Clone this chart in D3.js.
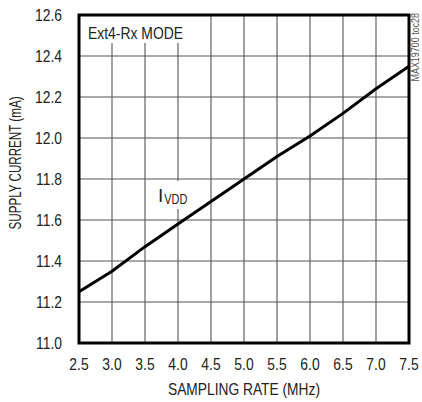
<!DOCTYPE html>
<html>
<head>
<meta charset="utf-8">
<script src="https://cdn.jsdelivr.net/npm/d3@7"></script>
<style>
  body { margin: 0; background: #fff; }
  text { font-family: "Liberation Sans", Arial, sans-serif; fill: #222; }
</style>
</head>
<body>
<svg></svg>
<script>
// sampling rate (MHz) and supply current (mA)
const rates = [2.5, 3.0, 3.5, 4.0, 4.5, 5.0, 5.5, 6.0, 6.5, 7.0, 7.5];
const current = [11.25, 11.35, 11.47, 11.58, 11.69, 11.80, 11.91, 12.01, 12.12, 12.24, 12.35];
const xTicks = [2.5, 3.0, 3.5, 4.0, 4.5, 5.0, 5.5, 6.0, 6.5, 7.0, 7.5];
const yTicks = [11.0, 11.2, 11.4, 11.6, 11.8, 12.0, 12.2, 12.4, 12.6];

const width = 422;
const height = 402;
const plotL = 79, plotR = 409, plotT = 15, plotB = 343;

const svg = d3.select('svg')
    .attr("width", width)
    .attr("height", height);

// squeeze text horizontally, the original uses a condensed face
function narrow(sel, f) {
    sel.each(function() {
        const w = this.getComputedTextLength();
        d3.select(this).attr("textLength", w * f).attr("lengthAdjust", "spacingAndGlyphs");
    });
}

const x = d3.scaleLinear().domain([2.5, 7.5]).range([plotL, plotR]);
const y = d3.scaleLinear().domain([11.0, 12.6]).range([plotB, plotT]);

// grid
svg.append("g")
    .selectAll("line")
    .data(xTicks)
    .enter()
    .append("line")
    .attr("x1", d => x(d)).attr("x2", d => x(d))
    .attr("y1", plotT).attr("y2", plotB)
    .attr("stroke", "#555").attr("stroke-width", 1.1);

svg.append("g")
    .selectAll("line")
    .data(yTicks)
    .enter()
    .append("line")
    .attr("x1", plotL).attr("x2", plotR)
    .attr("y1", d => y(d)).attr("y2", d => y(d))
    .attr("stroke", "#555").attr("stroke-width", 1.1);

// white boxes behind labels
svg.append("rect").attr("x", plotL + 1).attr("y", plotT + 1).attr("width", 112).attr("height", 27).attr("fill", "#fff");
svg.append("rect").attr("x", 155).attr("y", 181).attr("width", 35).attr("height", 28).attr("fill", "#fff");

// curve
const line = d3.line()
    .x((d, i) => x(rates[i]))
    .y(d => y(d));

svg.append("path")
    .datum(current)
    .attr("d", line)
    .attr("fill", "none")
    .attr("stroke", "#000")
    .attr("stroke-width", 3);

// frame
svg.append("rect")
    .attr("x", plotL).attr("y", plotT)
    .attr("width", plotR - plotL).attr("height", plotB - plotT)
    .attr("fill", "none").attr("stroke", "#000").attr("stroke-width", 3);

// tick labels
svg.append("g")
    .selectAll("text")
    .data(yTicks)
    .enter()
    .append("text")
    .attr("x", 62)
    .attr("y", d => y(d) + 6)
    .attr("text-anchor", "end")
    .attr("font-size", 16.5)
    .text(d => d.toFixed(1))
    .call(narrow, 0.84);

svg.append("g")
    .selectAll("text")
    .data(xTicks)
    .enter()
    .append("text")
    .attr("x", d => x(d))
    .attr("y", 370)
    .attr("text-anchor", "middle")
    .attr("font-size", 16.5)
    .text(d => d.toFixed(1))
    .call(narrow, 0.84);

// axis titles
svg.append("text")
    .attr("x", 244).attr("y", 395)
    .attr("text-anchor", "middle")
    .attr("font-size", 17)
    .attr("textLength", 152).attr("lengthAdjust", "spacingAndGlyphs")
    .text("SAMPLING RATE (MHz)");

svg.append("text")
    .attr("transform", "translate(21,163) rotate(-90)")
    .attr("text-anchor", "middle")
    .attr("font-size", 17)
    .attr("textLength", 133).attr("lengthAdjust", "spacingAndGlyphs")
    .text("SUPPLY CURRENT (mA)");

// annotations
svg.append("text")
    .attr("x", 88).attr("y", 39)
    .attr("font-size", 16)
    .attr("textLength", 95).attr("lengthAdjust", "spacingAndGlyphs")
    .text("Ext4-Rx MODE");

const ivdd = svg.append("text")
    .attr("x", 158).attr("y", 202)
    .attr("font-size", 19);
ivdd.append("tspan").text("I");
ivdd.append("tspan").attr("dx", 1).attr("dy", 2).attr("font-size", 14)
    .attr("textLength", 23).attr("lengthAdjust", "spacingAndGlyphs").text("VDD");

svg.append("text")
    .attr("transform", "translate(419,13) rotate(-90)")
    .attr("text-anchor", "end")
    .attr("font-size", 10.5)
    .style("fill", "#555")
    .text("MAX19700 toc28")
    .call(narrow, 0.85);
</script>
</body>
</html>
